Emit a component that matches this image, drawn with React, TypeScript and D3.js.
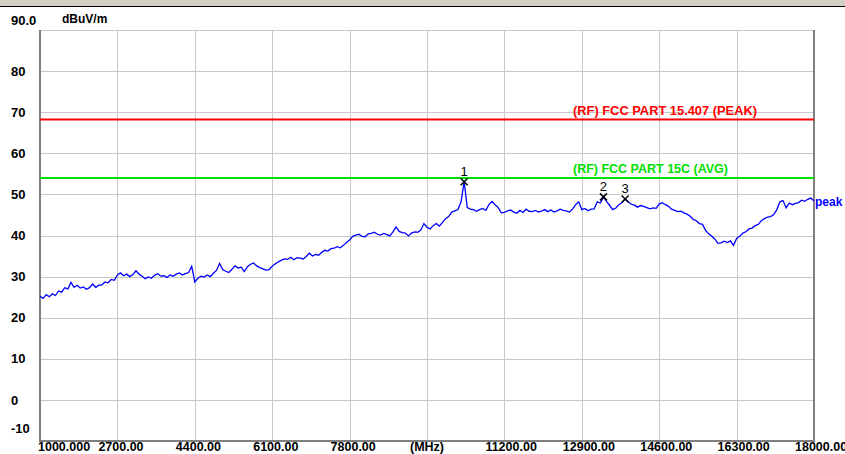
import React, { useEffect } from 'react';
import * as d3 from 'd3';

// sweep setup (MHz) and the trace, one level per sweep point
const sweepStart = 1000;
const sweepStop = 18000;
const levels = [
  25.2, 24.7, 25.6, 25.1, 25.8, 25.4, 26.5, 26.2, 27.3, 27.0,
  28.6, 27.4, 27.9, 27.2, 27.5, 26.9, 27.3, 28.2, 27.4, 27.9,
  28.0, 28.7, 28.5, 29.3, 29.1, 30.4, 30.9, 30.2, 30.6, 30.0,
  30.5, 31.4, 30.6, 30.1, 29.5, 29.9, 29.6, 30.3, 30.7, 30.1,
  30.2, 29.8, 30.4, 30.1, 30.6, 30.9, 30.4, 30.7, 31.0, 32.5,
  28.7, 29.6, 30.1, 29.9, 30.4, 30.0, 30.8, 31.5, 33.2, 31.7,
  31.3, 31.0, 31.8, 32.6, 32.1, 32.3, 31.2, 32.4, 33.0, 33.3,
  32.6, 32.2, 31.9, 31.6, 31.7, 32.5, 33.1, 33.6, 34.0, 34.3,
  34.2, 34.7, 34.1, 34.6, 34.5, 34.3, 34.9, 35.7, 35.0, 35.4,
  35.2, 35.9, 36.4, 36.2, 36.8, 36.9, 37.3, 37.0, 37.6, 38.3,
  38.9, 39.8, 40.1, 40.3, 39.8, 39.7, 40.4, 40.5, 40.8, 40.3,
  40.1, 40.5, 40.2, 39.9, 40.9, 42.1, 41.0, 40.7, 40.6, 39.9,
  40.6, 40.9, 40.8, 41.3, 42.9, 42.0, 41.6, 42.4, 42.9, 42.3,
  43.2, 44.1, 44.6, 45.7, 46.0, 46.3, 48.2, 53.1, 46.8, 46.4,
  46.3, 45.9, 46.3, 46.6, 46.1, 47.5, 48.3, 47.5, 46.8, 45.5,
  45.6, 46.0, 46.2, 45.7, 45.4, 46.1, 45.6, 46.4, 45.9, 45.8,
  46.1, 45.7, 45.9, 46.3, 45.8, 46.2, 45.7, 46.0, 46.4, 46.1,
  46.0, 45.7, 46.4, 47.5, 48.2, 46.3, 46.6, 46.0, 46.4, 46.5,
  48.2, 47.9, 49.4, 48.3, 47.3, 46.3, 46.7, 47.5, 48.0, 48.9,
  48.2, 47.6, 47.4, 46.9, 47.3, 47.1, 46.8, 46.5, 46.7, 46.6,
  47.7, 48.0, 47.5, 47.1, 46.4, 46.1, 45.8, 45.9, 45.5, 45.2,
  44.7, 43.9, 43.6, 42.9, 42.7, 41.2, 40.4, 39.8, 39.1, 38.1,
  38.2, 38.6, 38.3, 38.7, 37.6, 39.3, 39.8, 40.6, 40.9, 41.6,
  41.8, 42.4, 42.7, 43.6, 44.1, 44.5, 44.6, 45.1, 46.3, 48.2,
  48.5, 46.7, 47.9, 47.5, 47.8, 48.0, 48.6, 48.3, 48.8, 49.1,
  48.4,
];

const yTicks = [90, 80, 70, 60, 50, 40, 30, 20, 10, 0, -10];
const yTickLabels = ['90.0', '80', '70', '60', '50', '40', '30', '20', '10', '0', '-10'];
const xTicks = [1000, 2700, 4400, 6100, 7800, 9500, 11200, 12900, 14600, 16300, 18000];
const xTickLabels = ['1000.000', '2700.00', '4400.00', '6100.00', '7800.00', '(MHz)', '11200.00', '12900.00', '14600.00', '16300.00', '18000.00'];

const limitNames = ['(RF) FCC PART 15.407  (PEAK)', '(RF) FCC PART 15C (AVG)'];
const limitLevels = [68.2, 54.0];
const limitColors = ['#ff0000', '#00e000'];

const markerIds = ['1', '2', '3'];
const markerPoints = [137, 182, 189];

const W = 845;
const H = 454;
const plot = { left: 40, right: 814, top: 30, bottom: 441 };
const font = '"Liberation Sans", Arial, sans-serif';

export default function App() {
  useEffect(() => {
    document.body.style.margin = '0';
  }, []);

  const step = (sweepStop - sweepStart) / (levels.length - 1);
  const freqs = levels.map((_, i) => sweepStart + i * step);

  const x = d3.scaleLinear().domain([sweepStart, sweepStop]).range([plot.left, plot.right]);
  const y = d3.scaleLinear().domain([-10, 90]).range([plot.bottom, plot.top]);

  const trace = d3.line<number>()
    .x((_, i) => x(freqs[i]))
    .y(d => y(d))(levels) || '';

  // the software squeezes the first and last y labels
  const yLabelPos = (v: number) => (v === 90 ? 20 : v === -10 ? 428 : y(v));

  return (
    <svg width={W} height={H} style={{ display: 'block' }} fontFamily={font}>
      <rect width={W} height={H} fill="#fff" />
      <rect width={W} height={6} fill="#d4d0c8" />
      <line x1={0} x2={W} y1={6.5} y2={6.5} stroke="#000" strokeWidth={1} />

      {/* grid */}
      {xTicks.map(t => (
        <line key={'gx' + t} x1={Math.round(x(t)) + 0.5} x2={Math.round(x(t)) + 0.5}
          y1={plot.top} y2={plot.bottom} stroke="#c8c8c8" />
      ))}
      {yTicks.map(t => (
        <line key={'gy' + t} x1={plot.left} x2={plot.right}
          y1={Math.round(y(t)) + 0.5} y2={Math.round(y(t)) + 0.5} stroke="#c8c8c8" />
      ))}

      {/* frame */}
      <line x1={plot.left} x2={plot.left} y1={plot.top} y2={plot.bottom + 1} stroke="#808080" strokeWidth={2} />
      <line x1={plot.left} x2={plot.right + 1} y1={plot.bottom} y2={plot.bottom} stroke="#808080" strokeWidth={2} />
      <line x1={plot.right} x2={plot.right} y1={plot.top} y2={plot.bottom} stroke="#808080" strokeWidth={2} />

      {/* y labels */}
      {yTicks.map((t, i) => (
        <text key={'ly' + t} x={11} y={yLabelPos(t)} dy="0.36em" fontSize={13} fontWeight="bold" fill="#000">
          {yTickLabels[i]}
        </text>
      ))}
      <text x={62} y={23} fontSize={12} fontWeight="bold" fill="#000">dBuV/m</text>

      {/* x labels */}
      {xTicks.map((t, i) => {
        const lbl = xTickLabels[i];
        if (lbl === '(MHz)') {
          return <text key={'lx' + t} x={x(t)} y={451} textAnchor="middle" fontSize={12.5} fontWeight="bold">{lbl}</text>;
        }
        const sx = i === 0 ? x(t) - 2 : x(t) - 19;
        return <text key={'lx' + t} x={sx} y={451} fontSize={12.5} fontWeight="bold">{lbl}</text>;
      })}

      {/* limit lines */}
      {limitLevels.map((v, i) => (
        <g key={'lim' + i}>
          <line x1={plot.left} x2={plot.right} y1={y(v)} y2={y(v)} stroke={limitColors[i]} strokeWidth={2} />
          <text x={573} y={y(v) - 5} fontSize={12} fontWeight="bold" fill={limitColors[i]}
            textLength={i === 0 ? 184 : 155} lengthAdjust="spacingAndGlyphs">
            {limitNames[i]}
          </text>
        </g>
      ))}

      {/* trace */}
      <path d={trace} fill="none" stroke="#0000ff" strokeWidth={1.3} />
      <text x={815} y={206} fontSize={12} fontWeight="bold" fill="#0000ff">peak</text>

      {/* markers */}
      {markerPoints.map((p, i) => {
        const mx = x(freqs[p]);
        const my = y(levels[p]);
        return (
          <g key={'m' + i}>
            <path d={`M${mx - 3.5},${my - 3.5}L${mx + 3.5},${my + 3.5}M${mx + 3.5},${my - 3.5}L${mx - 3.5},${my + 3.5}`}
              stroke="#000" strokeWidth={1.5} />
            <text x={mx} y={my - 6} textAnchor="middle" fontSize={13} fill="#000">{markerIds[i]}</text>
          </g>
        );
      })}
    </svg>
  );
}
